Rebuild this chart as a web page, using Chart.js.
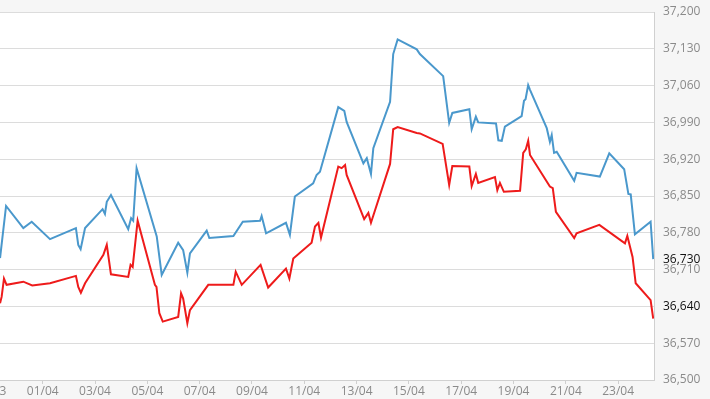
<!DOCTYPE html>
<html><head><meta charset="utf-8">
<script src="https://cdn.jsdelivr.net/npm/chart.js@4"></script>
<style>html,body{margin:0;padding:0;background:#f6f6f6;overflow:hidden}#wrap{width:710px;height:399px;position:relative}</style>
</head><body><div id="wrap"><canvas id="c"></canvas></div>
<script>
const tickDays = [-1,1,3,5,7,9,11,13,15,17,19,21,23];
const tickLabels = ['30/03','01/04','03/04','05/04','07/04','09/04','11/04','13/04','15/04','17/04','19/04','21/04','23/04'];
const yTicks = [36500,36570,36640,36710,36780,36850,36920,36990,37060,37130,37200];

const blueDays = [-0.63,-0.40,0.26,0.58,1.28,2.27,2.36,2.45,2.62,3.29,3.38,3.45,3.61,4.27,4.38,4.46,4.59,5.36,5.55,6.18,6.37,6.53,6.63,7.27,7.37,8.29,8.65,9.31,9.37,9.54,10.30,10.45,10.64,11.34,11.47,11.60,12.30,12.53,12.62,13.26,13.39,13.55,13.64,14.28,14.40,14.57,15.30,15.42,16.31,16.54,16.66,17.31,17.40,17.56,17.65,18.33,18.42,18.55,18.67,19.31,19.40,19.46,19.56,19.63,20.27,20.39,20.46,20.55,20.65,21.32,21.41,22.30,22.66,23.23,23.39,23.48,23.64,24.24,24.34];
const blueValues = [36732,36831,36789,36801,36768,36789,36757,36749,36789,36825,36816,36839,36852,36787,36808,36803,36903,36773,36700,36761,36747,36704,36741,36784,36770,36774,36801,36803,36812,36779,36799,36776,36849,36874,36890,36896,37019,37012,36991,36912,36922,36892,36941,37029,37120,37148,37129,37120,37078,36989,37008,37015,36977,37001,36990,36988,36956,36955,36982,37002,37031,37034,37061,37052,36979,36953,36966,36932,36934,36879,36894,36887,36931,36901,36854,36853,36777,36801,36730];

const redDays = [-0.63,-0.57,-0.48,-0.38,0.26,0.60,1.28,2.27,2.36,2.46,2.62,3.32,3.45,3.61,4.27,4.36,4.44,4.63,5.29,5.35,5.46,5.59,6.18,6.29,6.37,6.53,6.63,7.33,8.29,8.38,8.61,9.33,9.62,10.30,10.43,10.58,11.28,11.41,11.54,11.64,12.30,12.43,12.56,12.62,13.29,13.45,13.55,14.28,14.40,14.57,15.30,15.42,16.29,16.54,16.66,17.31,17.40,17.56,17.65,18.29,18.38,18.48,18.63,19.25,19.37,19.47,19.56,19.63,20.39,20.50,20.62,21.32,21.41,22.28,23.26,23.35,23.55,23.67,24.24,24.34];
const redValues = [36646,36658,36693,36681,36687,36680,36684,36698,36677,36666,36684,36738,36757,36701,36696,36719,36715,36803,36681,36677,36627,36611,36620,36665,36655,36608,36633,36681,36681,36706,36681,36719,36676,36712,36693,36731,36761,36792,36799,36771,36906,36903,36909,36890,36806,36818,36799,36911,36977,36981,36970,36969,36949,36871,36907,36906,36869,36892,36875,36886,36861,36875,36858,36860,36932,36939,36955,36928,36868,36865,36820,36770,36779,36795,36760,36774,36734,36684,36652,36617];

const fmt = v => String(v).replace(/\B(?=(\d{3})+(?!\d))/g, ',');
const FONT = {family: '"Open Sans", "Liberation Sans", sans-serif', size: 12};

const bgPlugin = {
  id: 'bgPlugin',
  beforeDraw(chart) {
    const {ctx, chartArea: a} = chart;
    ctx.save();
    ctx.fillStyle = '#f6f6f6';
    ctx.fillRect(0, 0, chart.width, chart.height);
    ctx.fillStyle = '#ffffff';
    ctx.fillRect(a.left, a.top, a.right - a.left, a.bottom - a.top);
    ctx.restore();
  },
  afterDraw(chart) {
    const ys = chart.scales.y;
    const ctx = chart.ctx;
    const v = blueValues[blueValues.length - 1];
    ctx.save();
    ctx.font = '12px "Open Sans", "Liberation Sans", sans-serif';
    ctx.fillStyle = '#111111';
    ctx.textAlign = 'left';
    ctx.textBaseline = 'middle';
    ctx.fillText(fmt(v), ys.left + 9, ys.getPixelForValue(v));
    ctx.restore();
  }
};

new Chart(document.getElementById('c'), {
  type: 'line',
  data: {
    datasets: [
      {data: blueDays.map((d, i) => ({x: d, y: blueValues[i]})), borderColor: '#4a98cc', borderWidth: 2, pointRadius: 0, tension: 0, fill: false},
      {data: redDays.map((d, i) => ({x: d, y: redValues[i]})), borderColor: '#ee1b1b', borderWidth: 2, pointRadius: 0, tension: 0, fill: false}
    ]
  },
  options: {
    responsive: true,
    maintainAspectRatio: false,
    animation: false,
    devicePixelRatio: 1,
    layout: {padding: {top: 12, left: 0, right: 0, bottom: 0}},
    plugins: {legend: {display: false}, tooltip: {enabled: false}},
    scales: {
      x: {
        type: 'linear', min: -0.632, max: 24.37,
        afterBuildTicks: s => { s.ticks = tickDays.map(v => ({value: v})); },
        afterFit: s => { s.height = 19; s.paddingLeft = 0; s.paddingRight = 0; },
        ticks: {autoSkip: false, maxRotation: 0, minRotation: 0, padding: 0, color: '#8a8a8a', font: FONT,
          callback: (v, i) => tickLabels[i]},
        grid: {drawOnChartArea: false, drawTicks: true, tickLength: 4, color: '#cfcfcf'},
        border: {display: true, color: '#d0d0d0'}
      },
      y: {
        type: 'linear', position: 'right', min: 36500, max: 37200,
        afterBuildTicks: s => { s.ticks = yTicks.map(v => ({value: v})); },
        afterFit: s => { s.width = 56; s.paddingTop = 0; s.paddingBottom = 0; },
        ticks: {padding: 9, font: FONT, color: c => (c.tick && c.tick.value === 36640) ? '#111111' : '#8a8a8a',
          callback: v => fmt(v)},
        grid: {color: '#dcdcdc', drawTicks: false},
        border: {display: true, color: '#d0d0d0'}
      }
    }
  },
  plugins: [bgPlugin]
});
</script>
</body></html>
